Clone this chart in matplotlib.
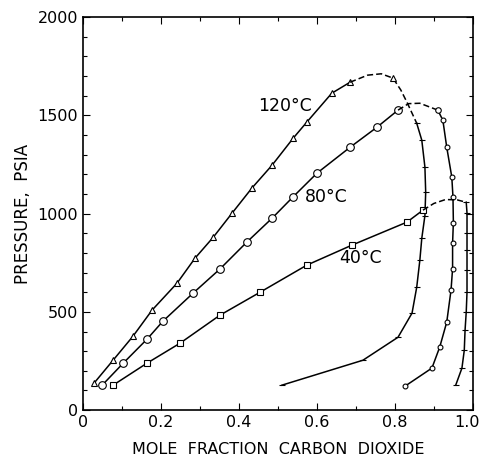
import numpy as np
import matplotlib.pyplot as plt
import matplotlib.transforms as mtransforms
from matplotlib.ticker import MultipleLocator, FixedFormatter, FixedLocator

# 120 C : bubble branch (triangles), critical region (dashed), dew branch
x120_bub = [0.028, 0.077, 0.128, 0.177, 0.241, 0.287, 0.334, 0.382, 0.433, 0.485, 0.539, 0.574, 0.638, 0.685]
p120_bub = [137, 254, 376, 509, 646, 773, 880, 1002, 1130, 1247, 1384, 1466, 1613, 1669]
x120_crit = [0.685, 0.73, 0.765, 0.795, 0.815, 0.831, 0.856]
p120_crit = [1669, 1705, 1712, 1690, 1630, 1567, 1460]
x120_dew = [0.856, 0.869, 0.877, 0.879, 0.877, 0.869, 0.864, 0.856, 0.844, 0.808, 0.718, 0.510]
p120_dew = [1460, 1374, 1237, 1109, 990, 875, 763, 626, 494, 371, 254, 127]

# 80 C : circles
x80_bub = [0.049, 0.103, 0.164, 0.205, 0.282, 0.351, 0.420, 0.485, 0.538, 0.600, 0.685, 0.754, 0.808]
p80_bub = [127, 239, 361, 453, 595, 718, 855, 977, 1084, 1206, 1338, 1440, 1527]
x80_crit = [0.808, 0.835, 0.864, 0.897, 0.910, 0.923]
p80_crit = [1527, 1560, 1562, 1537, 1527, 1476]
x80_dew = [0.923, 0.933, 0.946, 0.949, 0.950, 0.948, 0.948, 0.944, 0.933, 0.915, 0.895, 0.826]
p80_dew = [1476, 1338, 1186, 1084, 955, 850, 720, 611, 448, 321, 214, 122]

# 40 C : squares
x40_bub = [0.077, 0.164, 0.249, 0.351, 0.454, 0.574, 0.690, 0.831, 0.872]
p40_bub = [127, 239, 341, 483, 600, 738, 840, 957, 1018]
x40_crit = [0.872, 0.90, 0.93, 0.96, 0.983]
p40_crit = [1018, 1052, 1072, 1070, 1058]
x40_dew = [0.983, 0.985, 0.985, 0.985, 0.985, 0.985, 0.983, 0.980, 0.978, 0.972, 0.956]
p40_dew = [1058, 1003, 901, 814, 712, 600, 499, 407, 305, 214, 127]

xticks = [0, 0.2, 0.4, 0.6, 0.8, 1.0]
xticklabels = ['0', '0.2', '0.4', '0.6', '0.8', '1.0']

plt.rcParams['font.family'] = 'DejaVu Sans'
fig = plt.figure(figsize=(4.83, 4.65), dpi=100)
ax = fig.add_axes([0.172, 0.118, 0.807, 0.845])

lw = 1.1
mk = dict(mfc='white', mec='black', mew=0.8)
ax.plot(x120_bub, p120_bub, '-', color='black', lw=lw, marker='^', ms=5, **mk)
ax.plot(x120_crit, p120_crit, color='black', lw=lw, ls=(0, (4, 2)))
ax.plot(x120_crit[3], p120_crit[3], marker='^', ms=5, color='black', ls='none', **mk)
ax.plot(x120_dew, p120_dew, '-', color='black', lw=lw, marker='_', ms=5, mew=0.8)

ax.plot(x80_bub, p80_bub, '-', color='black', lw=lw, marker='o', ms=5.5, **mk)
ax.plot(x80_crit, p80_crit, color='black', lw=lw, ls=(0, (4, 2)))
ax.plot(x80_crit[4], p80_crit[4], marker='o', ms=4, color='black', ls='none', **mk)
ax.plot(x80_dew, p80_dew, '-', color='black', lw=lw, marker='o', ms=3.5, **mk)

ax.plot(x40_bub, p40_bub, '-', color='black', lw=lw, marker='s', ms=4.5, **mk)
ax.plot(x40_crit, p40_crit, color='black', lw=lw, ls=(0, (4, 2)))
ax.plot(x40_dew, p40_dew, '-', color='black', lw=lw, marker='_', ms=5, mew=0.8)

ax.text(0.518, 1547, '120°C', fontsize=12.5, ha='center', va='center')
ax.text(0.623, 1084, '80°C', fontsize=12.5, ha='center', va='center')
ax.text(0.713, 773, '40°C', fontsize=12.5, ha='center', va='center')

ax.set_xlim(0, 1.0)
ax.set_ylim(0, 2000)
ax.xaxis.set_major_locator(FixedLocator(xticks))
ax.xaxis.set_major_formatter(FixedFormatter(xticklabels))
ax.xaxis.set_minor_locator(MultipleLocator(0.1))
ax.yaxis.set_major_locator(MultipleLocator(500))
ax.yaxis.set_minor_locator(MultipleLocator(100))
ax.tick_params(which='both', direction='in', top=True, right=True, labelsize=11.5, width=0.8)
ax.tick_params(which='major', length=5)
ax.tick_params(which='minor', length=3)
for s in ax.spines.values():
    s.set_linewidth(1.2)

# keep the last x label inside the picture
last = ax.get_xticklabels()[-1]
last.set_transform(last.get_transform() + mtransforms.ScaledTranslation(-4 / 72, 0, fig.dpi_scale_trans))

ax.set_xlabel('MOLE  FRACTION  CARBON  DIOXIDE', fontsize=11.5, labelpad=9)
ax.set_ylabel('PRESSURE,  PSIA', fontsize=12, labelpad=4)

fig.savefig('out.png', dpi=100)
